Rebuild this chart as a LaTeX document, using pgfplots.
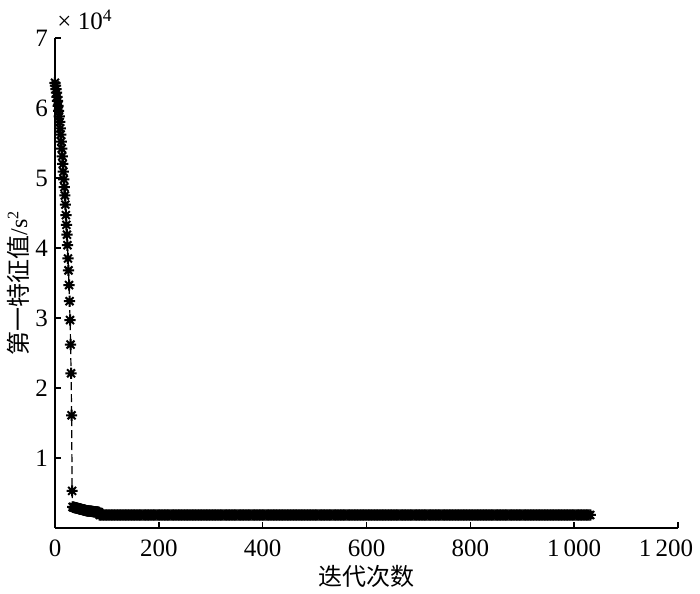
\documentclass[border=0pt]{standalone}
\usepackage{pgfplots}
\pgfplotsset{compat=1.18}
\usepackage{fontspec}
\setmainfont{Liberation Serif}
\newfontfamily\cjk{Noto Sans CJK SC}
\pgfdeclareplotmark{mstar}{%
  \pgfpathmoveto{\pgfqpoint{-\pgfplotmarksize}{0pt}}%
  \pgfpathlineto{\pgfqpoint{\pgfplotmarksize}{0pt}}%
  \pgfpathmoveto{\pgfqpoint{0pt}{-\pgfplotmarksize}}%
  \pgfpathlineto{\pgfqpoint{0pt}{\pgfplotmarksize}}%
  \pgfpathmoveto{\pgfqpoint{-0.707\pgfplotmarksize}{-0.707\pgfplotmarksize}}%
  \pgfpathlineto{\pgfqpoint{0.707\pgfplotmarksize}{0.707\pgfplotmarksize}}%
  \pgfpathmoveto{\pgfqpoint{-0.707\pgfplotmarksize}{0.707\pgfplotmarksize}}%
  \pgfpathlineto{\pgfqpoint{0.707\pgfplotmarksize}{-0.707\pgfplotmarksize}}%
  \pgfusepathqstroke}
\begin{document}
\begin{tikzpicture}
\begin{axis}[
  name=ax,
  scale only axis,
  width=311.5pt, height=245pt,
  xmin=0, xmax=1200, ymin=0, ymax=7,
  axis x line*=bottom, axis y line*=left,
  axis line style={-, line width=0.7pt},
  every tick/.style={line width=0.7pt, black},
  major tick length=3pt,
  tick align=inside,
  xtick={0,200,400,600,800,1000,1200},
  xticklabels={0,200,400,600,800,{1\,000},{\makebox[0pt]{\kern-12pt 1\,200}}},
  ytick={1,2,3,4,5,6,7},
  /pgf/number format/assume math mode=true,
  tick label style={font=\fontsize{12.5}{14}\selectfont},
  xticklabel style={yshift=-2.5pt},
  xlabel={{\cjk 迭代次数}},
  ylabel={{\cjk 第一特征值}/s\textsuperscript{2}},
  label style={font=\fontsize{12}{14}\selectfont},
  xlabel style={at={(rel axis cs:0.5,0)}, anchor=center, yshift=-24pt},
  ylabel style={at={(rel axis cs:0,0.5)}, anchor=center, yshift=18.5pt},
  clip=false,
]
\addplot[black, line width=0.6pt, dash pattern=on 4pt off 2pt,
  mark=mstar, mark size=2.8pt, mark options={solid, line width=1pt}]
coordinates {
(0,6.36)(1,6.32)(2,6.27)(3,6.22)(4,6.16)(5,6.10)(6,6.03)(7,5.96)(8,5.88)(9,5.80)
(10,5.71)(11,5.62)(12,5.52)(13,5.42)(14,5.31)(15,5.20)(16,5.09)(17,4.98)(18,4.87)(19,4.75)
(20,4.62)(21,4.47)(22,4.33)(23,4.19)(24,4.04)(25,3.85)(26,3.68)(27,3.47)(28,3.24)(29,2.97)
(30,2.62)(31,2.21)(32,1.61)(33,0.53)
(34,0.300)(35,0.298)(36,0.296)(37,0.294)(38,0.292)(39,0.290)(40,0.288)(41,0.286)(42,0.284)
(43,0.282)(44,0.280)(45,0.278)(46,0.276)(47,0.274)(48,0.272)(49,0.270)(50,0.268)(51,0.266)
(52,0.264)(53,0.262)(54,0.260)(55,0.258)(56,0.256)(57,0.254)(58,0.252)(59,0.250)(60,0.248)
(61,0.247)(62,0.246)(63,0.245)(64,0.244)(65,0.243)(66,0.242)(67,0.241)(68,0.240)(69,0.239)
(70,0.238)(71,0.237)(72,0.236)(73,0.235)(74,0.234)(75,0.233)(76,0.232)(77,0.231)(78,0.230)
(79,0.229)(80,0.228)(81,0.227)(82,0.226)(83,0.225)(84,0.224)(85,0.223)
(86,.186)(89,.186)(92,.186)(95,.186)(98,.186)(101,.186)(104,.186)(107,.186)(110,.186)(113,.186)
(116,.186)(119,.186)(122,.186)(125,.186)(128,.186)(131,.186)(134,.186)(137,.186)(140,.186)(143,.186)
(146,.186)(149,.186)(152,.186)(155,.186)(158,.186)(161,.186)(164,.186)(167,.186)(170,.186)(173,.186)
(176,.186)(179,.186)(182,.186)(185,.186)(188,.186)(191,.186)(194,.186)(197,.186)(200,.186)(203,.186)
(206,.186)(209,.186)(212,.186)(215,.186)(218,.186)(221,.186)(224,.186)(227,.186)(230,.186)(233,.186)
(236,.186)(239,.186)(242,.186)(245,.186)(248,.186)(251,.186)(254,.186)(257,.186)(260,.186)(263,.186)
(266,.186)(269,.186)(272,.186)(275,.186)(278,.186)(281,.186)(284,.186)(287,.186)(290,.186)(293,.186)
(296,.186)(299,.186)(302,.186)(305,.186)(308,.186)(311,.186)(314,.186)(317,.186)(320,.186)(323,.186)
(326,.186)(329,.186)(332,.186)(335,.186)(338,.186)(341,.186)(344,.186)(347,.186)(350,.186)(353,.186)
(356,.186)(359,.186)(362,.186)(365,.186)(368,.186)(371,.186)(374,.186)(377,.186)(380,.186)(383,.186)
(386,.186)(389,.186)(392,.186)(395,.186)(398,.186)(401,.186)(404,.186)(407,.186)(410,.186)(413,.186)
(416,.186)(419,.186)(422,.186)(425,.186)(428,.186)(431,.186)(434,.186)(437,.186)(440,.186)(443,.186)
(446,.186)(449,.186)(452,.186)(455,.186)(458,.186)(461,.186)(464,.186)(467,.186)(470,.186)(473,.186)
(476,.186)(479,.186)(482,.186)(485,.186)(488,.186)(491,.186)(494,.186)(497,.186)(500,.186)(503,.186)
(506,.186)(509,.186)(512,.186)(515,.186)(518,.186)(521,.186)(524,.186)(527,.186)(530,.186)(533,.186)
(536,.186)(539,.186)(542,.186)(545,.186)(548,.186)(551,.186)(554,.186)(557,.186)(560,.186)(563,.186)
(566,.186)(569,.186)(572,.186)(575,.186)(578,.186)(581,.186)(584,.186)(587,.186)(590,.186)(593,.186)
(596,.186)(599,.186)(602,.186)(605,.186)(608,.186)(611,.186)(614,.186)(617,.186)(620,.186)(623,.186)
(626,.186)(629,.186)(632,.186)(635,.186)(638,.186)(641,.186)(644,.186)(647,.186)(650,.186)(653,.186)
(656,.186)(659,.186)(662,.186)(665,.186)(668,.186)(671,.186)(674,.186)(677,.186)(680,.186)(683,.186)
(686,.186)(689,.186)(692,.186)(695,.186)(698,.186)(701,.186)(704,.186)(707,.186)(710,.186)(713,.186)
(716,.186)(719,.186)(722,.186)(725,.186)(728,.186)(731,.186)(734,.186)(737,.186)(740,.186)(743,.186)
(746,.186)(749,.186)(752,.186)(755,.186)(758,.186)(761,.186)(764,.186)(767,.186)(770,.186)(773,.186)
(776,.186)(779,.186)(782,.186)(785,.186)(788,.186)(791,.186)(794,.186)(797,.186)(800,.186)(803,.186)
(806,.186)(809,.186)(812,.186)(815,.186)(818,.186)(821,.186)(824,.186)(827,.186)(830,.186)(833,.186)
(836,.186)(839,.186)(842,.186)(845,.186)(848,.186)(851,.186)(854,.186)(857,.186)(860,.186)(863,.186)
(866,.186)(869,.186)(872,.186)(875,.186)(878,.186)(881,.186)(884,.186)(887,.186)(890,.186)(893,.186)
(896,.186)(899,.186)(902,.186)(905,.186)(908,.186)(911,.186)(914,.186)(917,.186)(920,.186)(923,.186)
(926,.186)(929,.186)(932,.186)(935,.186)(938,.186)(941,.186)(944,.186)(947,.186)(950,.186)(953,.186)
(956,.186)(959,.186)(962,.186)(965,.186)(968,.186)(971,.186)(974,.186)(977,.186)(980,.186)(983,.186)
(986,.186)(989,.186)(992,.186)(995,.186)(998,.186)(1001,.186)(1004,.186)(1007,.186)(1010,.186)(1013,.186)
(1016,.186)(1019,.186)(1022,.186)(1025,.186)(1028,.186)(1031,.186)
};
\end{axis}
\node[anchor=base west, inner sep=0pt, font=\fontsize{12.5}{14}\selectfont]
  at ([xshift=1pt, yshift=4pt]ax.north west) {× 10\textsuperscript{4}};
\pgfresetboundingbox
\path ([xshift=-27.5pt, yshift=-33pt]ax.south west) rectangle ([xshift=11pt, yshift=19pt]ax.north east);
\end{tikzpicture}
\end{document}
